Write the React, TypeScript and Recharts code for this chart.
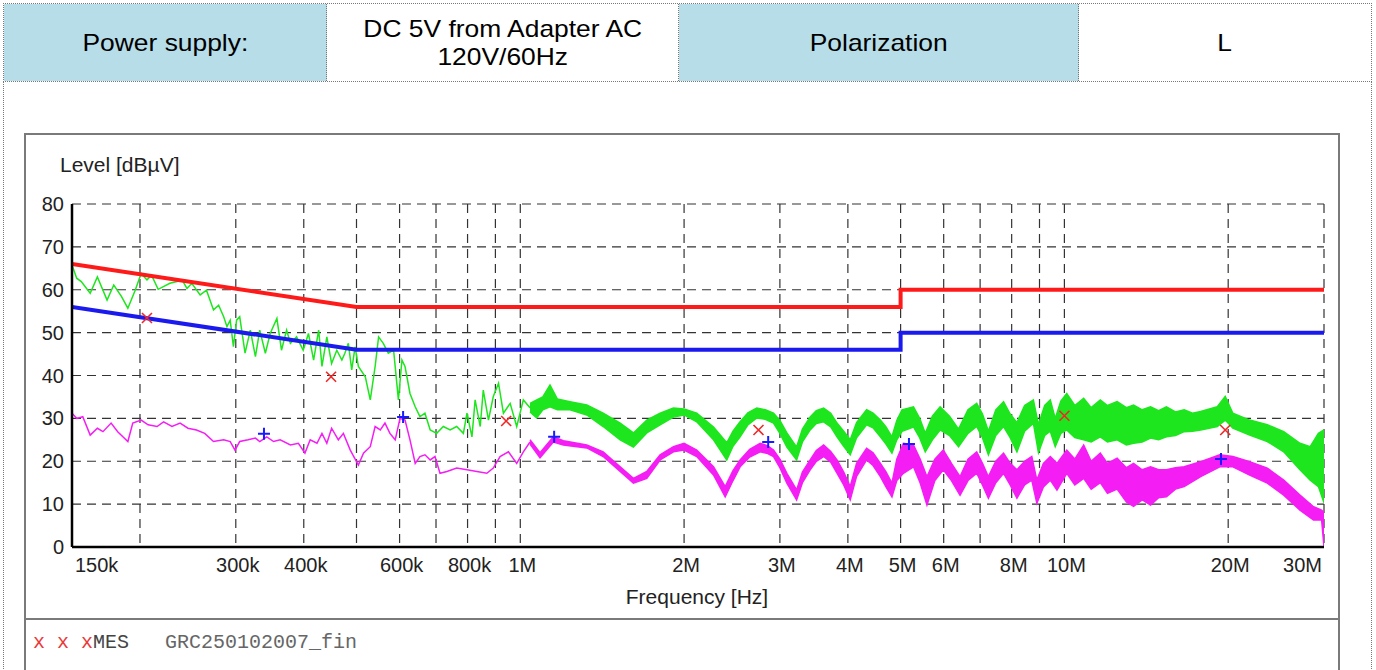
import React from 'react';
import { ComposedChart, Line, Area, XAxis, YAxis, CartesianGrid } from 'recharts';

// limit lines (Hz, dBµV)
const qpLimit = [
  { f: 150e3, v: 66 },
  { f: 500e3, v: 56 },
  { f: 5e6, v: 56 },
  { f: 5e6, v: 60 },
  { f: 30e6, v: 60 },
];
const avLimit = [
  { f: 150e3, v: 56 },
  { f: 500e3, v: 46 },
  { f: 5e6, v: 46 },
  { f: 5e6, v: 50 },
  { f: 30e6, v: 50 },
];

// peak trace below 1 MHz: [kHz, dBµV]
const peakLow: [number, number][] = [
  [150, 65.8], [153, 62.7], [156, 61.9], [162, 59.2], [167, 63], [174, 57.6], [179, 61.1],
  [185, 58.4], [190, 55.7], [196, 59.9], [201, 63.8], [206, 62.3], [210, 63.4], [216, 60.1],
  [227, 61.5], [234, 61.9], [239, 62.3], [244, 60.3], [249, 61.5], [258, 58.8], [265, 59.9],
  [273, 55.3], [279, 56.4], [285, 53.7], [289, 51.4], [293, 52.9], [297, 46.7], [301, 52.9],
  [305, 53.7], [312, 45.2], [319, 50.6], [326, 44.4], [332, 50.6], [340, 45.2], [347, 49.8],
  [357, 53.3], [364, 45.9], [372, 50.6], [378, 47.5], [388, 49], [399, 45.9], [408, 49.8],
  [417, 43.6], [426, 50.6], [432, 42.1], [441, 49], [450, 42.8], [460, 45.9], [470, 43.6],
  [476, 45.2], [483, 47.5], [490, 41.3], [497, 46.7], [504, 42.1], [519, 39.7], [530, 34.3],
  [541, 42.1], [549, 49], [560, 47.5], [572, 45.2], [585, 45.9], [597, 34.3], [606, 43.6],
  [614, 42.1], [627, 35.8], [641, 32.7], [654, 30.4], [668, 31.2], [683, 27.3], [702, 26.5],
  [722, 28.1], [743, 27.3], [764, 28.1], [786, 26.5], [798, 31.2], [815, 25.7], [826, 34.3],
  [844, 28.1], [855, 36.6], [874, 29.6], [892, 35.1], [912, 38.2], [931, 31.2], [958, 33.5],
  [985, 28.1], [1013, 34.3], [1042, 32.5],
];

// peak trace above 1 MHz, noisy band: [MHz, low, high]
const peakBand: [number, number, number][] = [
  [1.042, 31.5, 33.5], [1.072, 30.1, 34.3], [1.1, 32, 35], [1.134, 32.7, 37.8], [1.17, 32, 34.5],
  [1.234, 32, 33.9], [1.325, 30.8, 33.1], [1.42, 28.1, 31.2], [1.526, 25, 28.9], [1.614, 23.3, 26.6],
  [1.708, 26.6, 29.6], [1.807, 28.5, 31.2], [1.912, 30.3, 32.4], [2.0, 30.8, 32.2],
  [2.11, 29.2, 31.2], [2.265, 25, 28], [2.396, 20.3, 24.3], [2.46, 23.5, 27], [2.535, 25.7, 29.2],
  [2.62, 28.5, 31.3], [2.72, 30.1, 32.4], [2.82, 29.8, 32], [2.92, 28.9, 31.2], [3.0, 26.5, 29.5],
  [3.09, 23.3, 26.6], [3.22, 20.3, 23.3], [3.3, 24.5, 27.5], [3.41, 27.3, 30.3], [3.5, 28.8, 31.8],
  [3.61, 29.2, 32.4], [3.72, 28, 31.2], [3.82, 25.7, 28.9], [3.93, 23.5, 27], [4.04, 21.5, 25],
  [4.15, 25.5, 29], [4.33, 28.5, 32], [4.45, 27.8, 31.2], [4.59, 25.7, 29.6], [4.7, 24, 28],
  [4.82, 21.9, 25.7], [4.92, 25, 29.5], [5.03, 27, 32], [5.28, 28, 32.7], [5.42, 25.5, 30],
  [5.55, 22.2, 26.5], [5.72, 25, 30.5], [5.91, 27.3, 32.7], [6.15, 26, 30.5], [6.39, 23.4, 27.5],
  [6.65, 26.5, 32], [6.9, 28.1, 33.5], [7.07, 25.5, 31], [7.25, 21.5, 27], [7.48, 26, 32],
  [7.73, 28.1, 33.9], [7.95, 25.5, 31], [8.18, 22.2, 29], [8.45, 27, 33], [8.77, 28.9, 34.3],
  [8.96, 22, 28.5], [9.2, 26, 33], [9.42, 27, 34.3], [9.62, 23.4, 30], [9.85, 26.5, 34],
  [10.1, 27.3, 35.8], [10.45, 25.5, 33], [10.85, 25, 34.7], [11.2, 24.5, 32.5], [11.64, 25.7, 34.3],
  [12.0, 24.5, 33], [12.5, 25, 33.9], [13.0, 23.8, 32.5], [13.4, 24.2, 33.1], [13.9, 24.5, 32],
  [14.4, 25.4, 32.7], [14.9, 25, 31.8], [15.4, 25.7, 32.7], [16.0, 26, 31.5], [16.6, 26.9, 32],
  [17.2, 27, 31.2], [17.8, 27.3, 31.6], [19.1, 28.1, 32.7], [19.75, 29.6, 35.1], [20.4, 27.7, 31.2],
  [21.9, 26.1, 29.6], [23.6, 24.6, 28.5], [25.3, 22.2, 26.9], [27.1, 18, 24.2],
  [28.3, 15.6, 23.4], [29.3, 14.1, 26.5], [30, 10.3, 27.3],
];

// average trace below 1 MHz: [kHz, dBµV]
const avgLow: [number, number][] = [
  [150, 31.2], [153, 30], [157, 30.4], [162, 26.1], [167, 27.7], [171, 26.9], [177, 28.9],
  [182, 26.9], [190, 24.6], [194, 28.9], [201, 29.6], [207, 28.5], [215, 28.1], [221, 29.2],
  [229, 28.1], [237, 28.9], [245, 27.7], [254, 27.3], [263, 26.5], [273, 24.6], [285, 25],
  [293, 24.6], [299, 22.6], [305, 24.6], [316, 25], [326, 25.4], [332, 24.6], [342, 25.7],
  [352, 24.6], [362, 25], [378, 23.8], [391, 24.2], [402, 21.9], [411, 25], [423, 24.2],
  [432, 26.5], [441, 24.2], [450, 27.7], [463, 25], [473, 26.5], [487, 22.6], [504, 19.1],
  [515, 21.9], [530, 23.4], [541, 28.1], [553, 27.3], [564, 28.9], [576, 26.5], [589, 25],
  [601, 30], [614, 29.6], [627, 25], [641, 19.5], [654, 21.1], [668, 21.5], [683, 20.3],
  [697, 21.1], [712, 17.2], [733, 17.6], [764, 18.4], [798, 18], [832, 17.6], [868, 17.2],
  [892, 18.4], [918, 21.1], [951, 22.2], [985, 19.5], [1013, 22.2], [1042, 24.5],
];

// average trace above 1 MHz: [MHz, low, high]
const avgBand: [number, number, number][] = [
  [1.042, 24, 25], [1.087, 20.8, 22], [1.15, 24.5, 25.7], [1.2, 23.8, 24.8], [1.325, 23.1, 23.8],
  [1.42, 21.1, 22.2], [1.526, 17.6, 18.7], [1.614, 14.9, 16], [1.708, 16, 17.6],
  [1.807, 20.3, 21.5], [1.912, 22.2, 23.4], [2.0, 22.6, 24.2], [2.11, 21.1, 22.6],
  [2.265, 16.8, 18.7], [2.38, 11.7, 14.1], [2.46, 15.5, 17.8], [2.535, 18.7, 20.3],
  [2.64, 21, 22.8], [2.76, 22.2, 24.2], [2.85, 21.8, 23.6], [2.92, 21.1, 22.6], [3.0, 18.5, 20.5],
  [3.09, 14.9, 17.2], [3.22, 11, 13.3], [3.3, 15, 17.5], [3.41, 18, 20.3], [3.5, 20, 22.5],
  [3.61, 21.1, 23.8], [3.72, 19.8, 22.3], [3.82, 17.2, 20.3], [3.93, 14.5, 17.5], [4.04, 11, 14.1],
  [4.15, 16.5, 19.5], [4.33, 20.3, 23], [4.45, 19, 22], [4.59, 16.4, 19.5], [4.7, 14, 17.5],
  [4.82, 11.7, 14.9], [4.92, 15.5, 20.5], [5.06, 17.2, 24.2], [5.28, 18.7, 23.8], [5.43, 15, 20.5],
  [5.59, 9.8, 16.4], [5.78, 15.5, 20.5], [5.99, 18, 22.6], [6.2, 15.5, 19.5], [6.43, 12.1, 16.4],
  [6.65, 15.5, 20.5], [6.9, 17.2, 22.2], [7.07, 14.5, 19.5], [7.25, 11.4, 16.4], [7.48, 15, 20],
  [7.73, 17.2, 21.9], [7.95, 14.5, 19.5], [8.18, 11.4, 18], [8.45, 14.5, 20], [8.71, 15.6, 21.1],
  [8.9, 10.2, 15.6], [9.15, 14, 19.5], [9.42, 15.6, 21.1], [9.69, 13.3, 19.5], [10.1, 17.2, 22.6],
  [10.45, 14.5, 20.5], [10.85, 16, 23.8], [11.2, 13.5, 20], [11.64, 15, 21.9], [12.0, 12.5, 19.5],
  [12.5, 13.5, 20.7], [13.0, 10.5, 18.5], [13.4, 9.5, 19.5], [13.9, 11, 18], [14.4, 9.8, 18.7],
  [14.9, 11.5, 18], [15.4, 11.7, 18], [16.0, 13.5, 18.5], [16.6, 14.1, 18.7], [17.8, 16.4, 19.9],
  [19.3, 18.7, 21.5], [20.4, 18.7, 21.1], [21.9, 16.8, 19.9], [23.6, 14.9, 18.4],
  [25.3, 12.1, 15.6], [27.1, 8.6, 12.1], [28.7, 6.3, 9.4], [29.7, 6.3, 8.6], [30, 0, 8],
];

// final measurement markers: [kHz, dBµV]
const qpMarks: [number, number][] = [
  [206, 53.4], [449, 39.7], [942, 29.4], [2740, 27.3], [10000, 30.6], [19750, 27.3],
];
const avMarks: [number, number][] = [
  [338, 26.4], [609, 30.3], [1154, 25.7], [2855, 24.5], [5180, 24], [19400, 20.5],
];

const F_MIN = 150e3;
const F_MAX = 30e6;
const xTicks = [150e3, 300e3, 400e3, 600e3, 800e3, 1e6, 2e6, 3e6, 4e6, 5e6, 6e6, 8e6, 10e6, 20e6, 30e6];
const xTickLabels = ['150k', '300k', '400k', '600k', '800k', '1M', '2M', '3M', '4M', '5M', '6M', '8M', '10M', '20M', '30M'];
const gridFreqs = [
  200e3, 300e3, 400e3, 500e3, 600e3, 700e3, 800e3, 900e3, 1e6,
  2e6, 3e6, 4e6, 5e6, 6e6, 7e6, 8e6, 9e6, 10e6, 20e6, 30e6,
];
const yTicks = [0, 10, 20, 30, 40, 50, 60, 70, 80];

const peakLine = peakLow.map(([k, v]) => ({ f: k * 1e3, v }));
const peakArea = peakBand.map(([m, lo, hi]) => ({ f: m * 1e6, r: [lo, hi] }));
const avgLine = avgLow.map(([k, v]) => ({ f: k * 1e3, v }));
const avgArea = avgBand.map(([m, lo, hi]) => ({ f: m * 1e6, r: [lo, hi] }));
const qpMarkData = qpMarks.map(([k, v]) => ({ f: k * 1e3, v }));
const avMarkData = avMarks.map(([k, v]) => ({ f: k * 1e3, v }));

const FONT = 'Arial, "Liberation Sans", sans-serif';
const GREEN = '#1ee61e';
const MAGENTA = '#f41ef4';
const BLUE_CELL = '#b6dde8';
const DOT = '1px dotted #777';

// vertical grid lines at the decade subdivisions (log axis)
const gridX = ({ xAxis, offset }: any) => {
  if (xAxis && typeof xAxis.scale === 'function') return gridFreqs.map((f) => xAxis.scale(f));
  const span = Math.log10(F_MAX / F_MIN);
  return gridFreqs.map((f) => offset.left + (offset.width * Math.log10(f / F_MIN)) / span);
};

const XMark = (props: any) => {
  const { cx, cy } = props;
  if (cx == null || cy == null) return <g />;
  return (
    <path
      d={`M${cx - 5},${cy - 5}L${cx + 5},${cy + 5}M${cx + 5},${cy - 5}L${cx - 5},${cy + 5}`}
      stroke="#f02828"
      strokeWidth={1.6}
      fill="none"
    />
  );
};

const PlusMark = (props: any) => {
  const { cx, cy } = props;
  if (cx == null || cy == null) return <g />;
  return (
    <path
      d={`M${cx - 6},${cy}L${cx + 6},${cy}M${cx},${cy - 6}L${cx},${cy + 6}`}
      stroke="#1a1aff"
      strokeWidth={2}
      fill="none"
    />
  );
};

const XTick = (props: any) => {
  const { x, y, payload } = props;
  const i = xTicks.indexOf(payload.value);
  const label = xTickLabels[i] ?? '';
  let anchor: 'start' | 'middle' | 'end' = 'middle';
  let dx = 2;
  if (i === 0) {
    anchor = 'start';
    dx = 3;
  } else if (i === xTicks.length - 1) {
    anchor = 'end';
    dx = -2;
  }
  return (
    <text x={x + dx} y={y} dy={23} textAnchor={anchor} fontFamily={FONT} fontSize={20} fill="#222">
      {label}
    </text>
  );
};

const YTick = (props: any) => {
  const { x, y, payload } = props;
  return (
    <text x={x} y={y} dy={7} textAnchor="end" fontFamily={FONT} fontSize={20} fill="#222">
      {payload.value}
    </text>
  );
};

const cell = (bg: string, width: number, last = false): React.CSSProperties => ({
  width,
  height: '100%',
  background: bg,
  borderRight: last ? 'none' : DOT,
  display: 'flex',
  alignItems: 'center',
  justifyContent: 'center',
  textAlign: 'center',
  fontSize: 24,
  lineHeight: '28px',
  color: '#000',
  boxSizing: 'border-box',
});

const wide: React.CSSProperties = { display: 'inline-block', transform: 'scaleX(1.1)' };

export default function App() {
  return (
    <div
      style={{
        position: 'absolute',
        left: 0,
        top: 0,
        width: 1376,
        height: 670,
        overflow: 'hidden',
        background: '#fff',
        fontFamily: FONT,
      }}
    >
      {/* header table */}
      <div
        style={{
          position: 'absolute',
          left: 3,
          top: 3,
          width: 1369,
          height: 79,
          border: DOT,
          boxSizing: 'border-box',
          display: 'flex',
        }}
      >
        <div style={cell(BLUE_CELL, 323)}>
          <span style={wide}>Power supply:</span>
        </div>
        <div style={cell('#fff', 352)}>
          <span style={wide}>
            DC 5V from Adapter AC
            <br />
            120V/60Hz
          </span>
        </div>
        <div style={cell(BLUE_CELL, 400)}>
          <span style={wide}>Polarization</span>
        </div>
        <div style={cell('#fff', 292, true)}>
          <span style={wide}>L</span>
        </div>
      </div>
      <div
        style={{
          position: 'absolute',
          left: 3,
          top: 81,
          width: 1369,
          height: 600,
          borderLeft: DOT,
          borderRight: DOT,
          boxSizing: 'border-box',
        }}
      />

      {/* chart frame */}
      <div
        style={{
          position: 'absolute',
          left: 24,
          top: 133,
          width: 1316,
          height: 580,
          border: '2px solid #7a7a7a',
          boxSizing: 'border-box',
        }}
      />
      <div
        style={{
          position: 'absolute',
          left: 24,
          top: 618,
          width: 1316,
          borderTop: '2px solid #7a7a7a',
        }}
      />

      <div style={{ position: 'absolute', left: 60, top: 153, fontSize: 21, color: '#222', whiteSpace: 'nowrap' }}>
        Level [dBµV]
      </div>
      <div
        style={{
          position: 'absolute',
          left: 597,
          width: 200,
          top: 585,
          fontSize: 21,
          color: '#222',
          textAlign: 'center',
          whiteSpace: 'nowrap',
        }}
      >
        Frequency [Hz]
      </div>

      <div
        style={{
          position: 'absolute',
          left: 33,
          top: 632,
          fontFamily: '"Liberation Mono", "Courier New", monospace',
          fontSize: 20,
          lineHeight: '22px',
          whiteSpace: 'pre',
          color: '#444',
        }}
      >
        <span style={{ color: '#e83a3a' }}>x x x</span>MES   <span style={{ color: '#666' }}>GRC250102007_fin</span>
      </div>

      <div style={{ position: 'absolute', left: 0, top: 0 }}>
        <ComposedChart
          width={1376}
          height={670}
          margin={{ top: 204, right: 52, bottom: 93, left: 32 }}
        >
          <CartesianGrid
            stroke="#333"
            strokeWidth={1.2}
            strokeDasharray="9 6"
            verticalCoordinatesGenerator={gridX}
          />
          <XAxis
            dataKey="f"
            type="number"
            scale="log"
            domain={[F_MIN, F_MAX]}
            allowDataOverflow
            ticks={xTicks}
            interval={0}
            height={30}
            tickLine={false}
            tickSize={0}
            axisLine={{ stroke: '#000', strokeWidth: 2.5 }}
            tick={<XTick />}
          />
          <YAxis
            type="number"
            domain={[0, 80]}
            ticks={yTicks}
            interval={0}
            width={40}
            tickLine={false}
            tickSize={0}
            tickMargin={8}
            axisLine={{ stroke: '#000', strokeWidth: 2.5 }}
            tick={<YTick />}
          />
          <Area
            data={avgArea}
            dataKey="r"
            type="linear"
            stroke={MAGENTA}
            strokeWidth={1.5}
            fill={MAGENTA}
            fillOpacity={1}
            isAnimationActive={false}
            dot={false}
            activeDot={false}
          />
          <Line
            data={avgLine}
            dataKey="v"
            type="linear"
            stroke={MAGENTA}
            strokeWidth={1.5}
            dot={false}
            activeDot={false}
            isAnimationActive={false}
          />
          <Area
            data={peakArea}
            dataKey="r"
            type="linear"
            stroke={GREEN}
            strokeWidth={1.5}
            fill={GREEN}
            fillOpacity={1}
            isAnimationActive={false}
            dot={false}
            activeDot={false}
          />
          <Line
            data={peakLine}
            dataKey="v"
            type="linear"
            stroke={GREEN}
            strokeWidth={1.5}
            dot={false}
            activeDot={false}
            isAnimationActive={false}
          />
          <Line
            data={qpLimit}
            dataKey="v"
            type="linear"
            stroke="#ff1a1a"
            strokeWidth={4}
            dot={false}
            activeDot={false}
            isAnimationActive={false}
          />
          <Line
            data={avLimit}
            dataKey="v"
            type="linear"
            stroke="#1a1aee"
            strokeWidth={4}
            dot={false}
            activeDot={false}
            isAnimationActive={false}
          />
          <Line
            data={qpMarkData}
            dataKey="v"
            stroke="none"
            dot={<XMark />}
            activeDot={false}
            isAnimationActive={false}
          />
          <Line
            data={avMarkData}
            dataKey="v"
            stroke="none"
            dot={<PlusMark />}
            activeDot={false}
            isAnimationActive={false}
          />
        </ComposedChart>
      </div>
    </div>
  );
}
